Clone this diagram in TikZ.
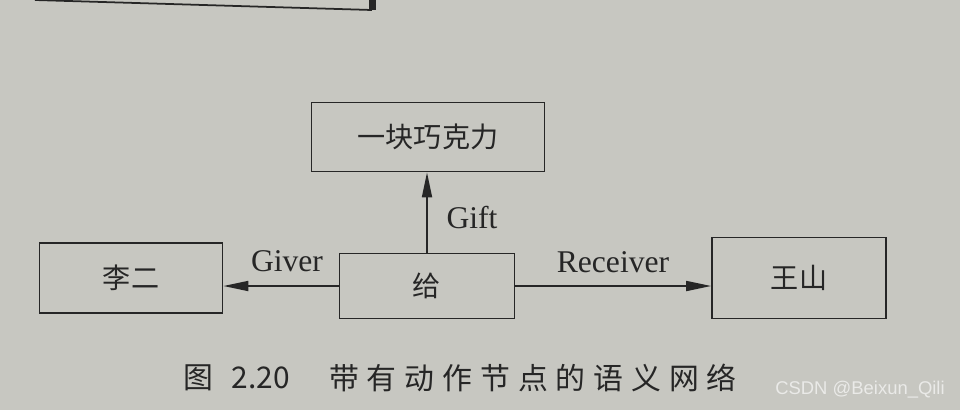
\documentclass[tikz,border=0pt]{standalone}
\usepackage{fontspec}
\setmainfont{Liberation Serif}
\newfontfamily\cjk{Noto Sans CJK SC}
\newfontfamily\wmfont{Liberation Sans}
\usetikzlibrary{arrows.meta}
\definecolor{paper}{RGB}{199,199,193}
\definecolor{ink}{RGB}{38,38,38}
\definecolor{wm}{RGB}{234,234,232}
\begin{document}
\begin{tikzpicture}[x=0.02cm,y=-0.02cm,
  box/.style={draw=ink, line width=1pt, inner sep=0pt, text=ink,
    font=\cjk\fontsize{16}{18}\selectfont},
  conn/.style={draw=ink, line width=1pt, -{Triangle[length=0.5cm,width=0.2cm]}},
  lbl/.style={font=\fontsize{18}{20}\selectfont, text=ink, inner sep=0pt},
  captext/.style={font=\cjk\fontsize{17}{19}\selectfont, text=ink, inner sep=0pt}]
\fill[paper] (0,0) rectangle (960,410);
\useasboundingbox (0,0) rectangle (960,410);
% fragment of the figure above
\draw[ink, line width=1pt] (35,0) -- (372,10);
\fill[ink] (369,0) rectangle (376,10);
% boxes
\node[box, minimum width=4.66cm, minimum height=1.38cm] (gift) at (428,137) {一块巧克力};
\node[box, minimum width=3.5cm, minimum height=1.3cm] (gei) at (427,286) {给};
\node[box, minimum width=3.66cm, minimum height=1.4cm] (li) at (131,278) {李二};
\node[box, minimum width=3.48cm, minimum height=1.62cm] (wang) at (799,278) {王山};
% connectors
\draw[conn] (gei.north) -- (gei.north |- gift.south);
\draw[conn] (gei.west) -- (li.east |- gei.west);
\draw[conn] (gei.east) -- (wang.west |- gei.east);
% labels
\node[lbl] (lgift) at (472,218) {Gift};
\node[lbl] (lgiver) at (287,261) {Giver};
\node[lbl] (lrecv) at (613,262) {Receiver};
% caption
\node[captext] (fig) at (198,378) {图};
\node[captext] (num) at (261,378) {2.20};
\node[captext] (title) at (533,378) {带\hspace{4.5pt}有\hspace{4.5pt}动\hspace{4.5pt}作\hspace{4.5pt}节\hspace{4.5pt}点\hspace{4.5pt}的\hspace{4.5pt}语\hspace{4.5pt}义\hspace{4.5pt}网\hspace{4.5pt}络};
% watermark
\node[font=\wmfont\fontsize{10.5}{12}\selectfont, text=wm, inner sep=0pt] (wmk) at (860,390) {CSDN @Beixun\_Qili};
\end{tikzpicture}
\end{document}
